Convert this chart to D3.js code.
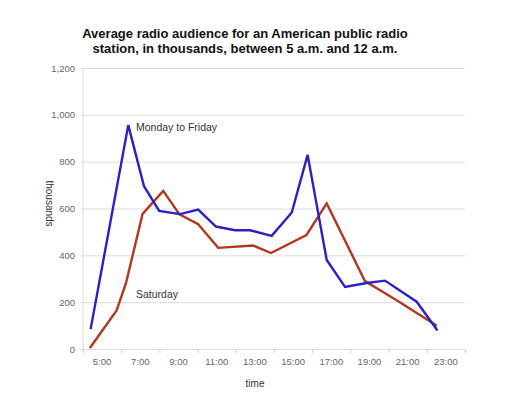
<!DOCTYPE html>
<html>
<head>
<meta charset="utf-8">
<script src="https://cdn.jsdelivr.net/npm/d3@7"></script>
<style>
  body { margin: 0; background: #fff; }
  svg { display: block; font-family: "Liberation Sans", Arial, sans-serif; }
</style>
</head>
<body>
<div id="chart"></div>
<script>
// Data (hours of the day, audience in thousands)
const weekdayHours = [4.4, 6.37, 7.19, 7.99, 9.08, 10.03, 10.96, 11.96, 12.74, 13.88, 14.93, 15.76, 16.76, 17.72, 18.85, 19.81, 21.47, 22.56];
const weekdayValues = [85, 956, 696, 590, 576, 595, 523, 507, 507, 483, 583, 829, 380, 265, 282, 292, 202, 79];
const saturdayHours = [4.36, 5.76, 6.25, 7.12, 8.2, 9.05, 10.03, 11.08, 12.91, 13.84, 15.7, 16.76, 18.76, 20.42, 22.53];
const saturdayValues = [4, 165, 281, 577, 675, 575, 533, 432, 442, 410, 487, 622, 290, 208, 99];
const xTickLabels = ["5:00", "7:00", "9:00", "11:00", "13:00", "15:00", "17:00", "19:00", "21:00", "23:00"];
const yTicks = [0, 200, 400, 600, 800, 1000, 1200];

const W = 512, H = 396;
const margin = { top: 68, right: 47, bottom: 47, left: 83 };
const width = W - margin.left - margin.right;
const height = H - margin.top - margin.bottom;

const svg = d3.select("#chart")
  .append("svg")
  .attr("width", W)
  .attr("height", H);

// Title
svg.append("text")
  .attr("x", 245).attr("y", 38)
  .attr("text-anchor", "middle")
  .style("font-size", "13px").style("font-weight", "bold").style("fill", "#111")
  .text("Average radio audience for an American public radio");
svg.append("text")
  .attr("x", 245).attr("y", 53)
  .attr("text-anchor", "middle")
  .style("font-size", "13px").style("font-weight", "bold").style("fill", "#111")
  .text("station, in thousands, between 5 a.m. and 12 a.m.");

const g = svg.append("g")
  .attr("transform", `translate(${margin.left},${margin.top})`);

const x = d3.scaleLinear().domain([4, 24]).range([0, width]);
const y = d3.scaleLinear().domain([0, 1200]).range([height, 0]);

// Horizontal grid + y labels
const yAxis = g.append("g")
  .call(d3.axisLeft(y).tickValues(yTicks).tickSize(-width - 2).tickPadding(6).tickFormat(d3.format(",")))
  .attr("transform", "translate(-2,0)");
yAxis.select(".domain").remove();
yAxis.selectAll("line").attr("stroke", "#dcdcdc");
yAxis.selectAll("text").style("font-size", "9.5px").style("fill", "#666");

// Left vertical line
g.append("line")
  .attr("x1", 0).attr("x2", 0).attr("y1", 0).attr("y2", height)
  .attr("stroke", "#dcdcdc");

// X tick marks at even hours
const xAxis = g.append("g")
  .attr("transform", `translate(0,${height})`)
  .call(d3.axisBottom(x).tickValues(d3.range(4, 25, 2)).tickSize(4).tickFormat(""));
xAxis.select(".domain").attr("stroke", "#dcdcdc");
xAxis.selectAll("line").attr("stroke", "#cfcfcf");

// X labels centred between ticks
g.append("g")
  .selectAll("text")
  .data(xTickLabels)
  .enter()
  .append("text")
  .attr("x", (d, i) => x(5 + i * 2))
  .attr("y", height + 16)
  .attr("text-anchor", "middle")
  .style("font-size", "9.5px").style("fill", "#666")
  .text(d => d);

// Axis titles
svg.append("text")
  .attr("x", 255).attr("y", 387)
  .attr("text-anchor", "middle")
  .style("font-size", "10px").style("fill", "#333")
  .text("time");
svg.append("text")
  .attr("transform", `translate(46,${margin.top + height / 2 - 5}) rotate(90)`)
  .attr("text-anchor", "middle")
  .style("font-size", "10px").style("fill", "#333")
  .text("thousands");

const line = d3.line()
  .x(d => x(d[0]))
  .y(d => y(d[1]));

g.append("path")
  .datum(saturdayHours.map((h, i) => [h, saturdayValues[i]]))
  .attr("d", line)
  .attr("fill", "none")
  .attr("stroke", "#b0391f")
  .attr("stroke-width", 2.4)
  .attr("stroke-linejoin", "miter");

g.append("path")
  .datum(weekdayHours.map((h, i) => [h, weekdayValues[i]]))
  .attr("d", line)
  .attr("fill", "none")
  .attr("stroke", "#2b20c6")
  .attr("stroke-width", 2.4)
  .attr("stroke-linejoin", "miter");

// Series labels
svg.append("text")
  .attr("x", 136).attr("y", 131)
  .style("font-size", "10.5px").style("fill", "#333")
  .text("Monday to Friday");
svg.append("text")
  .attr("x", 136).attr("y", 298)
  .style("font-size", "10.5px").style("fill", "#333")
  .text("Saturday");
</script>
</body>
</html>
